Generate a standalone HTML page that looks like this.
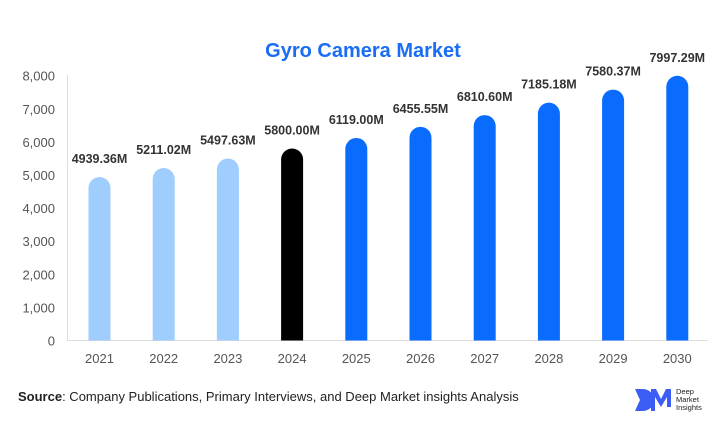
<!DOCTYPE html>
<html><head><meta charset="utf-8"><style>
body{margin:0;background:#fff;width:726px;height:443px;overflow:hidden;font-family:"Liberation Sans",sans-serif}
</style></head><body>
<svg id="c" width="726" height="443">
<text x="363" y="57" text-anchor="middle" font-size="20" font-weight="bold" fill="#1a6ef5">Gyro Camera Market</text>
<g id="axes"></g><g id="bars"></g>
<text x="18" y="401" font-size="13" fill="#222"><tspan font-weight="bold">Source</tspan>: Company Publications, Primary Interviews, and Deep Market insights Analysis</text>
<g>
<path d="M635 389 h8 a11 11 0 0 1 0 22 h-8 l5 -11 z" fill="#3b5cf5"/>
<path d="M651 411 v-22 h5 l5 10 l5 -10 h5 v18 h-4 v-10 l-6 10 l-6 -10 v14 z" fill="#3b5cf5"/>
<text x="676" y="394" font-size="7.5" fill="#222">Deep</text>
<text x="676" y="402" font-size="7.5" fill="#222">Market</text>
<text x="676" y="410" font-size="7.5" fill="#222">Insights</text>
</g>
</svg>
<script>
const years=["2021","2022","2023","2024","2025","2026","2027","2028","2029","2030"];
const values=[4939.36,5211.02,5497.63,5800.00,6119.00,6455.55,6810.60,7185.18,7580.37,7997.29];
const labels=["4939.36M","5211.02M","5497.63M","5800.00M","6119.00M","6455.55M","6810.60M","7185.18M","7580.37M","7997.29M"];
const ticks=[0,1000,2000,3000,4000,5000,6000,7000,8000];
const NS="http://www.w3.org/2000/svg";
const y0=340.5,y1=75.7,yMax=8000;
const y=v=>y0-(v/yMax)*(y0-y1);
const x=i=>99.5+i*64.2;
function mk(t,a,p){const e=document.createElementNS(NS,t);for(const k in a)e.setAttribute(k,a[k]);p.appendChild(e);return e;}
const ax=document.getElementById('axes'),bg=document.getElementById('bars');
ticks.forEach(t=>{const e=mk('text',{x:55,y:y(t)+5,'text-anchor':'end','font-size':13,fill:'#555'},ax);e.textContent=t.toLocaleString('en-US');

});
const l1=mk('line',{x1:67.5,y1:75,x2:67.5,y2:y0,stroke:'#ddd'},ax);


const l2=mk('line',{x1:67,y1:y0,x2:708,y2:y0,stroke:'#ddd'},ax);


years.forEach((yr,i)=>{
const cx=x(i),top=y(values[i]),w=22,r=11;
const col=i<3?'#9fcdfd':(i==3?'#000':'#0a6cff');
const p=mk('path',{d:`M${cx-w/2} ${y0} V${top+r} A${r} ${r} 0 0 1 ${cx+w/2} ${top+r} V${y0} Z`,fill:col},bg);


const t=mk('text',{x:cx,y:top-14,'text-anchor':'middle','font-size':12.5,'font-weight':'bold',fill:'#333'},bg);t.textContent=labels[i];


const xl=mk('text',{x:cx,y:363,'text-anchor':'middle','font-size':13,fill:'#555'},bg);xl.textContent=yr;


});
</script>
</body></html>
